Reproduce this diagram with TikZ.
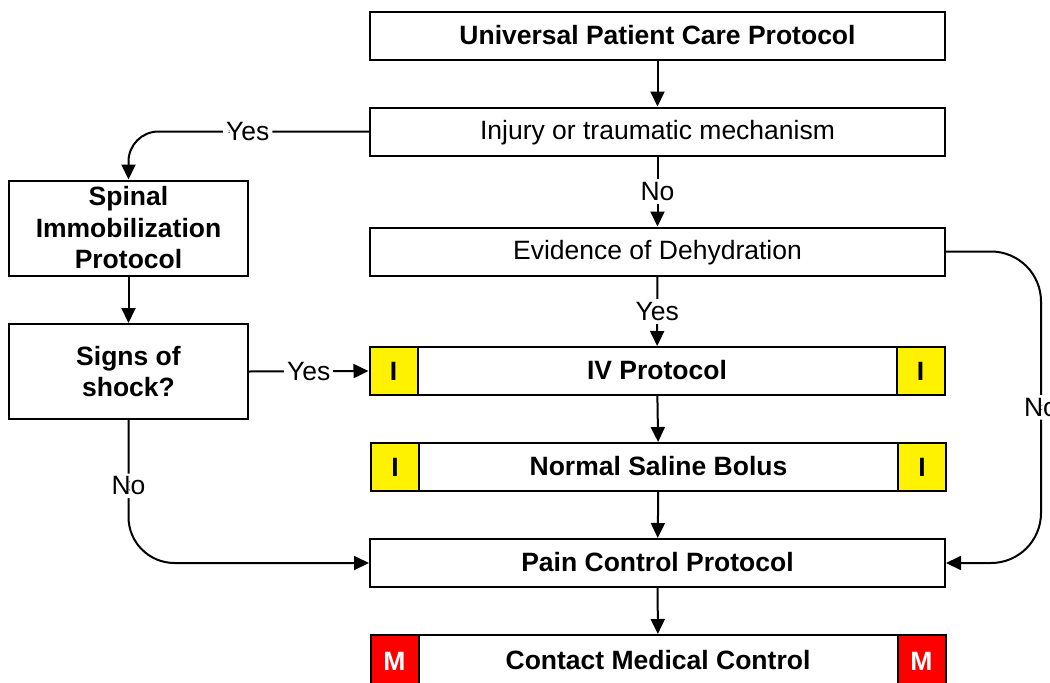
\documentclass[tikz,border=0pt]{standalone}
\usepackage{fontspec}
\setmainfont{Liberation Sans}
\usetikzlibrary{arrows.meta}
\begin{document}
\begin{tikzpicture}[x=1pt,y=-1pt,
  txt/.style={font=\fontsize{26.5}{31.5}\selectfont},
  btxt/.style={font=\fontsize{26.5}{31.5}\selectfont\bfseries},
  box/.style={draw, line width=2pt, fill=white, minimum width=575pt, minimum height=48pt, inner sep=0pt, text height=19pt, text depth=3pt},
  sbox/.style={draw, line width=2pt, fill=white, minimum width=239pt, minimum height=95pt, inner sep=0pt, align=center, btxt},
  isq/.style={draw, line width=2pt, fill=yellow, minimum size=48pt, inner sep=0pt, btxt},
  msq/.style={draw, line width=2pt, fill=red, text=white, minimum size=48pt, inner sep=0pt, btxt},
  arr/.style={line width=2pt, -{Triangle[length=15pt,width=14pt]}},
  lbl/.style={fill=white, inner sep=3pt, txt}
]
\useasboundingbox (0,0) rectangle (1050,683);

\node[box, btxt] (upc) at (657.5,36) {Universal Patient Care Protocol};
\node[box, txt] (inj) at (657.5,131.5) {Injury or traumatic mechanism};
\node[box, txt] (dehy) at (657.5,251.5) {Evidence of Dehydration};
\node[box, btxt] (iv) at (657,371) {IV Protocol};
\node[isq, anchor=west] (iv1) at (iv.west) {I};
\node[isq, anchor=east] (iv2) at (iv.east) {I};
\node[box, btxt] (ns) at (658.5,467) {Normal Saline Bolus};
\node[isq, anchor=west] (ns1) at (ns.west) {I};
\node[isq, anchor=east] (ns2) at (ns.east) {I};
\node[box, btxt] (pain) at (657.5,563) {Pain Control Protocol};
\node[box, btxt, minimum height=52pt] (cmc) at (658,661) {Contact Medical Control};
\node[msq, minimum height=52pt, anchor=west] (cmc1) at (cmc.west) {M};
\node[msq, minimum height=52pt, anchor=east] (cmc2) at (cmc.east) {M};

\node[sbox] (spin) at (128.5,228) {Spinal\\Immobilization\\Protocol};
\node[sbox] (shock) at (128.5,371.5) {Signs of\\shock?};

\draw[arr] (upc) -- (inj);
\draw[arr] (inj) -- node[lbl] {No} (dehy);
\draw[arr] (dehy) -- node[lbl] {Yes} (iv);
\draw[arr] (iv) -- (ns);
\draw[arr] (ns) -- (pain);
\draw[arr] (pain) -- (cmc);
\draw[arr] (spin) -- (shock);
\draw[arr, rounded corners=30pt] (inj.west) -| node[lbl, pos=0.252] {Yes} (spin.north);
\draw[arr] (shock.east) -- node[lbl] {Yes} (iv1.west);
\draw[arr, rounded corners=46pt] (shock.south) |- node[lbl, pos=0.23] {No} (pain.west);
\draw[arr, rounded corners=50pt] (dehy.east) -- ++(95,0) |- node[lbl, pos=0.25] {No} (pain.east);
\end{tikzpicture}
\end{document}
